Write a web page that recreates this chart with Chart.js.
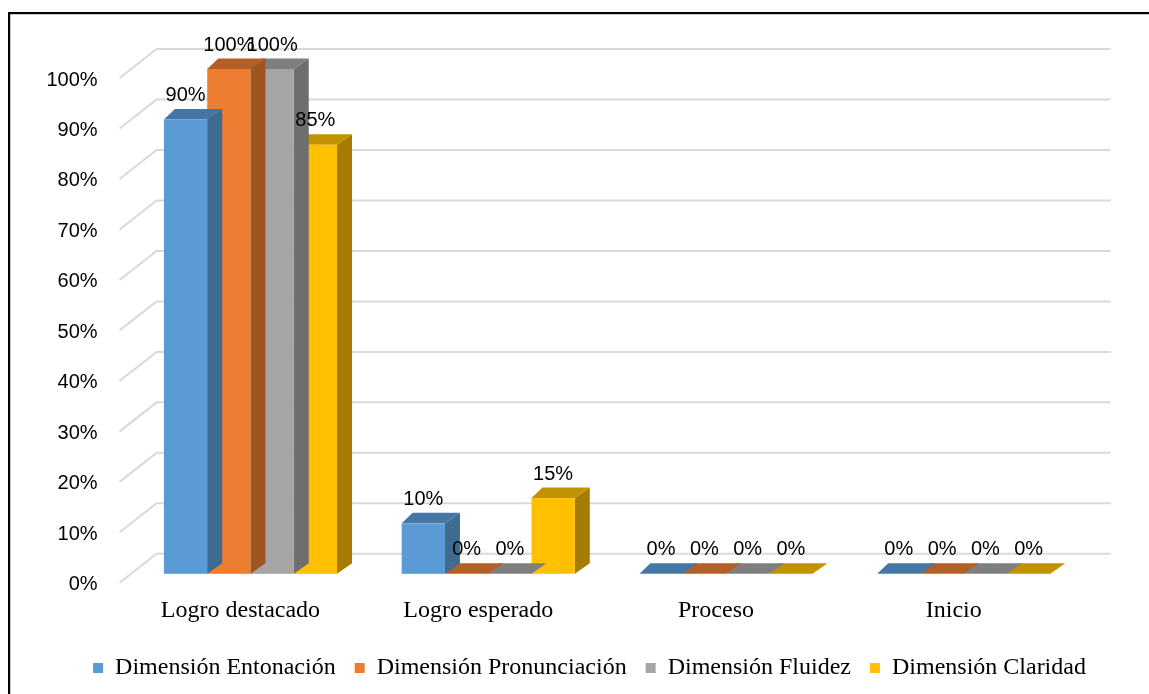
<!DOCTYPE html>
<html>
<head>
<meta charset="utf-8">
<script src="https://cdn.jsdelivr.net/npm/chart.js@4.4.1/dist/chart.umd.min.js"></script>
<style>
  html, body { margin: 0; padding: 0; background: #fff; }
  #wrap { width: 1149px; height: 694px; position: relative; }
  canvas { display: block; }
</style>
</head>
<body>
<div id="wrap"><canvas id="c" width="1149" height="694"></canvas></div>
<script>
// Categories and series (percent of students per level)
const categories = ['Logro destacado', 'Logro esperado', 'Proceso', 'Inicio'];
const seriesNames = ['Dimensión Entonación', 'Dimensión Pronunciación', 'Dimensión Fluidez', 'Dimensión Claridad'];
const entonacion    = [90, 10, 0, 0];
const pronunciacion = [100, 0, 0, 0];
const fluidez       = [100, 0, 0, 0];
const claridad      = [85, 15, 0, 0];
const seriesValues = [entonacion, pronunciacion, fluidez, claridad];

// Face colours for the pseudo-3D columns
const frontColors = ['#5B9BD5', '#ED7D31', '#A5A5A5', '#FFC000'];
const topColors   = ['#4677A4', '#B45F26', '#7F7F7F', '#C29200'];
const sideColors  = ['#3F6A92', '#A05421', '#6E6E6E', '#A67C00'];

// Depth of the extruded faces
const DXL = 11, DXR = 15, DY = 10.5;

const threeD = {
  id: 'threeD',
  beforeDraw(chart) {
    const c = chart.ctx;
    c.save();
    c.fillStyle = '#fff';
    c.fillRect(0, 0, chart.width, chart.height);
    // frame (top and left edges)
    c.fillStyle = '#000';
    c.fillRect(8, 12, 2.2, chart.height - 12);
    c.fillRect(8, 12, chart.width - 8, 2.2);
    c.restore();
  },
  beforeDatasetsDraw(chart) {
    // back wall + side wall grid lines
    const y = chart.scales.y, a = chart.chartArea, c = chart.ctx;
    c.save();
    c.strokeStyle = '#D9D9D9';
    c.lineWidth = 2;
    y.ticks.forEach(t => {
      const py = y.getPixelForValue(t.value);
      c.beginPath();
      c.moveTo(a.left - 12, py + 9);
      c.lineTo(a.left + 25, py - 20);
      c.lineTo(a.right + 28, py - 20);
      c.stroke();
    });
    c.restore();
  },
  beforeDatasetDraw(chart, args) {
    const meta = args.meta, i = args.index, c = chart.ctx;
    c.save();
    meta.data.forEach(bar => {
      const { x, y, base, width } = bar.getProps(['x', 'y', 'base', 'width'], true);
      const x0 = x - width / 2, x1 = x + width / 2;
      // right side
      if (base - y > 0.5) {
        c.fillStyle = sideColors[i];
        c.beginPath();
        c.moveTo(x1, y);
        c.lineTo(x1 + DXR, y - DY);
        c.lineTo(x1 + DXR, base - DY);
        c.lineTo(x1, base);
        c.closePath();
        c.fill();
      }
      // top
      c.fillStyle = topColors[i];
      c.beginPath();
      c.moveTo(x0, y);
      c.lineTo(x1, y);
      c.lineTo(x1 + DXR, y - DY);
      c.lineTo(x0 + DXL, y - DY);
      c.closePath();
      c.fill();
      // front
      c.fillStyle = frontColors[i];
      c.fillRect(x0, y, width, base - y);
    });
    c.restore();
    return false;
  },
  afterDatasetsDraw(chart) {
    const c = chart.ctx;
    c.save();
    c.font = '20px "Liberation Sans", Arial, sans-serif';
    c.fillStyle = '#000';
    c.textAlign = 'center';
    c.textBaseline = 'middle';
    chart.data.datasets.forEach((ds, i) => {
      chart.getDatasetMeta(i).data.forEach((bar, j) => {
        const { x, y } = bar.getProps(['x', 'y'], true);
        c.fillText(ds.data[j] + '%', x, y - 24);
      });
    });
    c.restore();
  }
};

new Chart(document.getElementById('c'), {
  type: 'bar',
  data: {
    labels: categories,
    datasets: seriesNames.map((name, i) => ({
      label: name,
      data: seriesValues[i],
      backgroundColor: frontColors[i],
      borderWidth: 0
    }))
  },
  options: {
    responsive: false,
    animation: false,
    layout: { padding: { top: 69, left: 30, right: 0, bottom: 4 } },
    datasets: { bar: { categoryPercentage: 0.728, barPercentage: 1 } },
    scales: {
      x: {
        grid: { display: false, drawTicks: false },
        border: { display: false },
        ticks: {
          font: { family: '"Liberation Serif", "Times New Roman", serif', size: 24 },
          color: '#000',
          labelOffset: -10,
          padding: 23,
          maxRotation: 0,
          autoSkip: false
        },
        afterFit(s) { s.height = 63.2; }
      },
      y: {
        min: 0,
        max: 100,
        grid: { display: false, drawTicks: false },
        border: { display: false },
        ticks: {
          stepSize: 10,
          callback: v => v + '%',
          font: { family: '"Liberation Sans", Arial, sans-serif', size: 20 },
          color: '#000',
          padding: 34,
          labelOffset: 11
        },
        afterFit(s) { s.width = 101.6; }
      },
      // empty right-hand margin, keeps the plot clear of the right edge
      margin: {
        type: 'linear',
        position: 'right',
        display: true,
        grid: { display: false, drawTicks: false },
        border: { display: false },
        ticks: { display: false },
        afterFit(s) { s.width = 66.4; }
      }
    },
    plugins: {
      legend: {
        position: 'bottom',
        labels: {
          boxWidth: 10,
          boxHeight: 10,
          padding: 19,
          color: '#000',
          font: { family: '"Liberation Serif", "Times New Roman", serif', size: 24 }
        }
      },
      tooltip: { enabled: false }
    }
  },
  plugins: [threeD]
});
</script>
</body>
</html>
